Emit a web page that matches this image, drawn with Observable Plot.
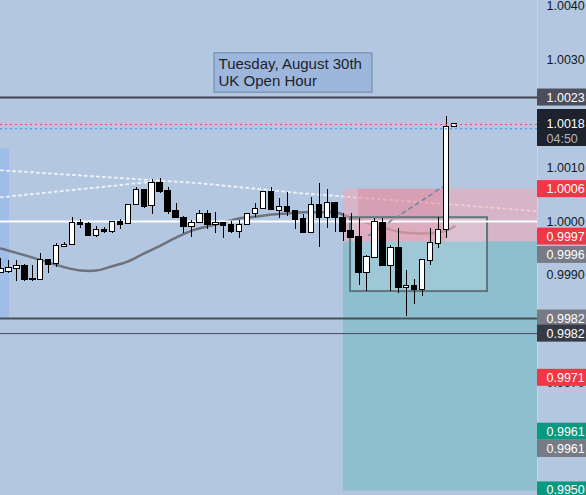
<!DOCTYPE html>
<html><head><meta charset="utf-8">
<script src="https://cdn.jsdelivr.net/npm/d3@7"></script>
<script src="https://cdn.jsdelivr.net/npm/@observablehq/plot@0.6"></script>
<style>
html,body{margin:0;padding:0;background:#b3c8e0;overflow:hidden}
#chart svg{display:block}
</style></head><body><div id="chart"></div>
<script>
// ---- candle data (bar index 0..57) ----
const openP  = [.99905,.99907,.99911,.99917,.99893,.99892,.99928,.99922,.99952,.99957,
  .99998,.99996,.99974,.99985,.99980,1.00000,.99996,1.00030,1.00059,1.00028,
  1.00072,1.00056,1.00019,1.00007,.99989,.99998,1.00013,.99994,.99998,.99993,
  .99980,.99994,1.00013,1.00024,1.00054,1.00020,1.00026,1.00019,1.00004,.99978,
  1.00030,1.00007,1.00035,1.00007,.99983,.99972,.99904,.99933,.99998,.99917,
  .99950,.99876,.99881,.99872,.99926,.99959,.99985,1.00175];
const highP  = [.99931,.99928,.99928,.99920,.99918,.99941,.99928,.99959,.99961,1.00007,
  1.00004,.99998,.99991,.99989,1.00000,1.00004,1.00030,1.00063,1.00059,1.00078,
  1.00080,1.00063,1.00033,1.00009,1.00002,1.00020,1.00020,1.00017,.99998,1.00000,
  1.00002,1.00013,1.00033,1.00054,1.00063,1.00043,1.00054,1.00020,1.00013,1.00045,
  1.00071,1.00059,1.00035,1.00015,1.00015,1.00006,.99937,1.00006,1.00006,.99955,
  .99987,.99909,.99892,.99930,.99987,1.00007,1.00195,1.00182];
const lowP   = [.99905,.99904,.99889,.99889,.99889,.99892,.99904,.99915,.99952,.99957,
  .99987,.99974,.99970,.99978,.99978,.99985,.99996,1.00030,1.00024,1.00013,
  1.00052,1.00013,1.00007,.99978,.99970,.99996,.99985,.99978,.99968,.99978,
  .99968,.99994,1.00007,1.00024,1.00022,1.00006,1.00009,.99985,.99978,.99978,
  .99952,.99987,.99980,.99963,.99970,.99881,.99870,.99933,.99917,.99870,
  .99866,.99824,.99846,.99861,.99918,.99950,.99968,1.00174];
const closeP = [.99911,.99913,.99917,.99892,.99892,.99928,.99920,.99954,.99957,.99998,
  .99993,.99974,.99985,.99980,1.00000,.99994,1.00030,1.00059,1.00026,1.00072,
  1.00054,1.00017,1.00007,.99989,.99998,1.00013,.99993,.99998,.99991,.99980,
  .99994,1.00013,1.00024,1.00054,1.00022,1.00026,1.00017,1.00002,.99978,1.00030,
  1.00007,1.00035,1.00007,.99981,.99970,.99904,.99935,1.00000,.99917,.99950,
  .99876,.99881,.99872,.99928,.99961,.99985,1.00176,1.00180];

// ---- moving average (gray) ----
const maBars   = [0,4,8,10,12,14,16,18,20,22,24,26,28,30,32,34,36,38,40,42,44,46,48,50,52,54,56,57];
const maValues = [.99950,.99933,.99915,.99909,.99909,.99917,.99926,.99941,.99955,.99970,.99983,.99991,.99998,1.00006,1.00009,1.00013,1.00015,1.00017,1.00017,1.00017,1.00007,.99998,.99989,.99981,.99978,.99978,.99983,.99991];

// ---- dotted white lines ----
const dotABars = [0,25,38,58,67.5];
const dotAValues = [1.00095,1.00071,1.00052,1.00030,1.00019];
const dotBBars = [0,12,19];
const dotBValues = [1.00045,1.00063,1.00074];

// ---- horizontal levels ----
const levelPrices = [1.0023, 0.9982, 0.99792];
const levelColors = ["#40434f", "#4b4f5a", "#4a4668"];
const levelWidths = [2, 2, 1];
const roundLevel = 1.0000;
const bidPrice = 1.00172;

// ---- short position tool ----
const posStartBar = 43.05;
const posStop = 1.0006, posEntry = 0.99962, posTarget = 0.9950;
const hitStartBar = 44.95, hitEndBar = 55.9;
const pathBars = [46.2, 55.6], pathPrices = [0.99974, 1.00065];

// ---- drawn rectangles ----
const boxBars = [43.93, 61.15], boxPrices = [1.00007, 0.99870];
const leftBoxBars = [-1, 1.07], leftBoxPrices = [1.00135, 0.9982];

// ---- annotation ----
const noteLines = ["Tuesday, August 30th", "UK Open Hour"];
const noteLinePrices = [1.00291, 1.00260];
const noteBars = [26.84, 46.69], notePrices = [1.00312, 1.00239];

// ---- price axis (ticks not hidden by the price labels) ----
const axisTicks = [1.004,1.003,1.002,1.001,1.000,0.999,0.997];
const labelText = ["1.0023","1.0006","0.9997","0.9996","0.9982","0.9982","0.9971","0.9961","0.9961","0.9950"];
const labelPos  = [1.0023, 1.0006, 0.99972, 0.99938, 0.9982, 0.99792, 0.9971, 0.9961, 0.99578, 0.99501];
const labelColor = ["#4c4f5b","#f23645","#f23645","#787b86","#787b86","#363a45","#f23645","#089981","#787b86","#089981"];
const countdown = "04:50";

// ---- layout ----
const W = 586, H = 495, plotRight = 537;
const xDom = [-0.0628, 67.43];
const yDom = [0.9949165, 1.0041002];
const pxBar = plotRight / (xDom[1] - xDom[0]);
const pxP = H / (yDom[1] - yDom[0]);
const axX2 = xDom[1] + (W - plotRight) / pxBar;

const candles = openP.map((o, i) => ({k: i, o, h: highP[i], l: lowP[i], c: closeP[i]}));
const minB = 1.2 / pxP;
candles.forEach(d => {
  let lo = Math.min(d.o, d.c), hi = Math.max(d.o, d.c);
  if (hi - lo < minB) { const m = (hi + lo) / 2; lo = m - minB / 2; hi = m + minB / 2; }
  d.b1 = lo; d.b2 = hi;
});
const ma = maBars.map((k, i) => ({k, v: maValues[i]}));
const dotA = dotABars.map((k, i) => ({k, v: dotAValues[i]}));
const dotB = dotBBars.map((k, i) => ({k, v: dotBValues[i]}));
const levels = levelPrices.map((p, i) => ({p, c: levelColors[i], w: levelWidths[i]}));
const labels = labelText.map((t, i) => ({t, p: labelPos[i], c: labelColor[i]}));
const last = closeP[closeP.length - 1];
const half = 8.5 / pxP;

const chart = Plot.plot({
  width: W, height: H,
  marginLeft: 0, marginRight: W - plotRight, marginTop: 0, marginBottom: 0,
  x: {domain: xDom, axis: null},
  y: {domain: yDom, axis: null},
  style: {background: "#b3c8e0", fontFamily: "'Liberation Sans', Arial, sans-serif"},
  marks: [
    Plot.rect([0], {x1: leftBoxBars[0], x2: leftBoxBars[1], y1: leftBoxPrices[1], y2: leftBoxPrices[0], fill: "#9ebde8"}),
    Plot.line(dotA, {x: "k", y: "v", stroke: "#ffffff", strokeOpacity: 0.75, strokeWidth: 2, strokeDasharray: "2,4"}),
    Plot.line(dotB, {x: "k", y: "v", stroke: "#ffffff", strokeOpacity: 0.75, strokeWidth: 2, strokeDasharray: "2,4"}),
    Plot.line(ma, {x: "k", y: "v", curve: "catmull-rom", stroke: "#666872", strokeWidth: 2.5, strokeOpacity: 0.9}),
    Plot.rect([0], {x1: posStartBar, x2: xDom[1], y1: posEntry, y2: posStop, fill: "#f7a1ad", fillOpacity: 0.5}),
    Plot.rect([0], {x1: hitStartBar, x2: hitEndBar, y1: posEntry, y2: posStop, fill: "#e0607a", fillOpacity: 0.25}),
    Plot.rect([0], {x1: posStartBar, x2: xDom[1], y1: posTarget, y2: posEntry, fill: "#80bbc6", fillOpacity: 0.72}),
    Plot.rect([0], {x1: boxBars[0], x2: boxBars[1], y1: boxPrices[1], y2: boxPrices[0], fill: "#ffffff", fillOpacity: 0.15, stroke: "#5f7580", strokeWidth: 2}),
    Plot.ruleY([roundLevel], {stroke: "#ffffff", strokeWidth: 2}),
    Plot.ruleY(levels, {y: "p", x1: xDom[0], x2: xDom[1], stroke: "c", strokeWidth: "w"}),
    Plot.line(pathBars.map((k, i) => ({k, v: pathPrices[i]})), {x: "k", y: "v", stroke: "#6e86a0", strokeWidth: 1.5, strokeDasharray: "4,4"}),
    Plot.ruleX(candles, {x: "k", y1: "l", y2: "h", stroke: "#000", strokeWidth: 1, shapeRendering: "crispEdges"}),
    Plot.rect(candles, {x1: d => d.k - 0.34, x2: d => d.k + 0.34, y1: "b1", y2: "b2",
      fill: d => d.c >= d.o ? "#ffffff" : "#000000", stroke: "#000", strokeWidth: 1, shapeRendering: "crispEdges"}),
    Plot.ruleY([last], {x1: xDom[0], x2: xDom[1], stroke: "#f0505e", strokeWidth: 1, strokeDasharray: "2,3"}),
    Plot.ruleY([bidPrice], {x1: xDom[0], x2: xDom[1], stroke: "#2196f3", strokeWidth: 1, strokeDasharray: "2,3"}),
    Plot.rect([0], {x1: noteBars[0], x2: noteBars[1], y1: notePrices[1], y2: notePrices[0], fill: "#9db6db", stroke: "#6c86a6", strokeWidth: 1}),
    Plot.text(noteLines, {x: noteBars[0] + 0.5, y: (d, i) => noteLinePrices[i], text: d => d, textAnchor: "start", fontSize: 15, fill: "#1e222d"}),
    Plot.ruleX([xDom[1]], {stroke: "#c6d5e8", strokeWidth: 1}),
    Plot.text(axisTicks, {y: d => d, text: d => d.toFixed(4), frameAnchor: "right", dx: 9, textAnchor: "start", fontSize: 12.5, fill: "#131722"}),
    Plot.rect(labels, {x1: xDom[1], x2: axX2, y1: d => d.p - half, y2: d => d.p + half, fill: "c"}),
    Plot.text(labels, {y: "p", text: "t", frameAnchor: "right", dx: 9, textAnchor: "start", fontSize: 12.5, fill: "#ffffff"}),
    Plot.rect([0], {x1: xDom[1], x2: axX2, y1: last - 22 / pxP, y2: last + 15 / pxP, fill: "#1e222d"}),
    Plot.text([last], {y: d => d, text: d => d.toFixed(4), frameAnchor: "right", dx: 9, textAnchor: "start", fontSize: 12.5, fill: "#ffffff"}),
    Plot.text([countdown], {y: last - 15 / pxP, text: d => d, frameAnchor: "right", dx: 9, textAnchor: "start", fontSize: 12.5, fill: "#b2b5be"})
  ]
});
document.getElementById("chart").appendChild(chart);
</script>
</body></html>
